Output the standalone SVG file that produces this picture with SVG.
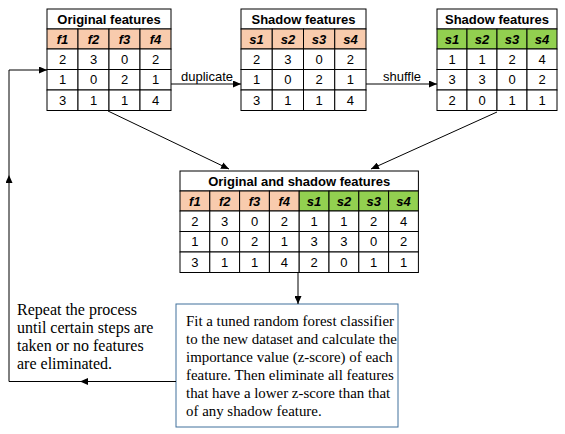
<svg xmlns="http://www.w3.org/2000/svg" width="565" height="434" viewBox="0 0 565 434">
<defs>
<marker id="ah" viewBox="0 0 8 7" refX="8" refY="3.5" markerWidth="8" markerHeight="7" markerUnits="userSpaceOnUse" orient="auto"><path d="M0,0 L8,3.5 L0,7 z" fill="#000"/></marker>
<style>
.cell{fill:#fff;stroke:#000;stroke-width:1}
.hdo{fill:#F8CBAD;stroke:#000;stroke-width:1}
.hdg{fill:#92D050;stroke:#000;stroke-width:1}
.t{font-family:"Liberation Sans",Arial,sans-serif;font-size:13px;text-anchor:middle;fill:#000}
.ti{font-family:"Liberation Sans",Arial,sans-serif;font-size:13px;font-weight:bold;text-anchor:middle;fill:#000}
.h{font-family:"Liberation Sans",Arial,sans-serif;font-size:13px;font-weight:bold;font-style:italic;text-anchor:middle;fill:#000}
.lbl{font-family:"Liberation Sans",Arial,sans-serif;font-size:13px;fill:#000}
.p{font-family:"Liberation Serif","Times New Roman",serif;font-size:16px;fill:#000}
.pb{font-family:"Liberation Serif","Times New Roman",serif;font-size:14.9px;fill:#000}
.c{stroke:#000;stroke-width:1;fill:none}
</style>
</defs>

<g id="table-original">
<rect class="cell" x="47" y="9" width="124" height="20"/>
<text class="ti" x="109" y="23.5">Original features</text>
<rect class="hdo" x="47" y="29" width="31" height="20"/><rect class="hdo" x="78" y="29" width="31" height="20"/><rect class="hdo" x="109" y="29" width="31" height="20"/><rect class="hdo" x="140" y="29" width="31" height="20"/>
<text class="h" x="62.5" y="43.5">f1</text><text class="h" x="93.5" y="43.5">f2</text><text class="h" x="124.5" y="43.5">f3</text><text class="h" x="155.5" y="43.5">f4</text>
<rect class="cell" x="47" y="49" width="31" height="20.5"/><rect class="cell" x="78" y="49" width="31" height="20.5"/><rect class="cell" x="109" y="49" width="31" height="20.5"/><rect class="cell" x="140" y="49" width="31" height="20.5"/>
<rect class="cell" x="47" y="69.5" width="31" height="20.5"/><rect class="cell" x="78" y="69.5" width="31" height="20.5"/><rect class="cell" x="109" y="69.5" width="31" height="20.5"/><rect class="cell" x="140" y="69.5" width="31" height="20.5"/>
<rect class="cell" x="47" y="90" width="31" height="20.5"/><rect class="cell" x="78" y="90" width="31" height="20.5"/><rect class="cell" x="109" y="90" width="31" height="20.5"/><rect class="cell" x="140" y="90" width="31" height="20.5"/>
<text class="t" x="62.5" y="63.7">2</text><text class="t" x="93.5" y="63.7">3</text><text class="t" x="124.5" y="63.7">0</text><text class="t" x="155.5" y="63.7">2</text>
<text class="t" x="62.5" y="84.2">1</text><text class="t" x="93.5" y="84.2">0</text><text class="t" x="124.5" y="84.2">2</text><text class="t" x="155.5" y="84.2">1</text>
<text class="t" x="62.5" y="104.7">3</text><text class="t" x="93.5" y="104.7">1</text><text class="t" x="124.5" y="104.7">1</text><text class="t" x="155.5" y="104.7">4</text>
</g>

<g id="table-shadow">
<rect class="cell" x="241" y="9" width="125" height="20"/>
<text class="ti" x="303.5" y="23.5">Shadow features</text>
<rect class="hdo" x="241" y="29" width="31.25" height="20"/><rect class="hdo" x="272.25" y="29" width="31.25" height="20"/><rect class="hdo" x="303.5" y="29" width="31.25" height="20"/><rect class="hdo" x="334.75" y="29" width="31.25" height="20"/>
<text class="h" x="256.6" y="43.5">s1</text><text class="h" x="287.9" y="43.5">s2</text><text class="h" x="319.1" y="43.5">s3</text><text class="h" x="350.4" y="43.5">s4</text>
<rect class="cell" x="241" y="49" width="31.25" height="20.5"/><rect class="cell" x="272.25" y="49" width="31.25" height="20.5"/><rect class="cell" x="303.5" y="49" width="31.25" height="20.5"/><rect class="cell" x="334.75" y="49" width="31.25" height="20.5"/>
<rect class="cell" x="241" y="69.5" width="31.25" height="20.5"/><rect class="cell" x="272.25" y="69.5" width="31.25" height="20.5"/><rect class="cell" x="303.5" y="69.5" width="31.25" height="20.5"/><rect class="cell" x="334.75" y="69.5" width="31.25" height="20.5"/>
<rect class="cell" x="241" y="90" width="31.25" height="20.5"/><rect class="cell" x="272.25" y="90" width="31.25" height="20.5"/><rect class="cell" x="303.5" y="90" width="31.25" height="20.5"/><rect class="cell" x="334.75" y="90" width="31.25" height="20.5"/>
<text class="t" x="256.6" y="63.7">2</text><text class="t" x="287.9" y="63.7">3</text><text class="t" x="319.1" y="63.7">0</text><text class="t" x="350.4" y="63.7">2</text>
<text class="t" x="256.6" y="84.2">1</text><text class="t" x="287.9" y="84.2">0</text><text class="t" x="319.1" y="84.2">2</text><text class="t" x="350.4" y="84.2">1</text>
<text class="t" x="256.6" y="104.7">3</text><text class="t" x="287.9" y="104.7">1</text><text class="t" x="319.1" y="104.7">1</text><text class="t" x="350.4" y="104.7">4</text>
</g>

<g id="table-shuffled">
<rect class="cell" x="437" y="9" width="120" height="20"/>
<text class="ti" x="497" y="23.5">Shadow features</text>
<rect class="hdg" x="437" y="29" width="30" height="20"/><rect class="hdg" x="467" y="29" width="30" height="20"/><rect class="hdg" x="497" y="29" width="30" height="20"/><rect class="hdg" x="527" y="29" width="30" height="20"/>
<text class="h" x="452" y="43.5">s1</text><text class="h" x="482" y="43.5">s2</text><text class="h" x="512" y="43.5">s3</text><text class="h" x="542" y="43.5">s4</text>
<rect class="cell" x="437" y="49" width="30" height="20.5"/><rect class="cell" x="467" y="49" width="30" height="20.5"/><rect class="cell" x="497" y="49" width="30" height="20.5"/><rect class="cell" x="527" y="49" width="30" height="20.5"/>
<rect class="cell" x="437" y="69.5" width="30" height="20.5"/><rect class="cell" x="467" y="69.5" width="30" height="20.5"/><rect class="cell" x="497" y="69.5" width="30" height="20.5"/><rect class="cell" x="527" y="69.5" width="30" height="20.5"/>
<rect class="cell" x="437" y="90" width="30" height="20.5"/><rect class="cell" x="467" y="90" width="30" height="20.5"/><rect class="cell" x="497" y="90" width="30" height="20.5"/><rect class="cell" x="527" y="90" width="30" height="20.5"/>
<text class="t" x="452" y="63.7">1</text><text class="t" x="482" y="63.7">1</text><text class="t" x="512" y="63.7">2</text><text class="t" x="542" y="63.7">4</text>
<text class="t" x="452" y="84.2">3</text><text class="t" x="482" y="84.2">3</text><text class="t" x="512" y="84.2">0</text><text class="t" x="542" y="84.2">2</text>
<text class="t" x="452" y="104.7">2</text><text class="t" x="482" y="104.7">0</text><text class="t" x="512" y="104.7">1</text><text class="t" x="542" y="104.7">1</text>
</g>

<g id="table-combined">
<rect class="cell" x="180" y="171" width="238.4" height="20"/>
<text class="ti" x="299.2" y="185.5">Original and shadow features</text>
<rect class="hdo" x="180" y="191" width="29.8" height="20"/><rect class="hdo" x="209.8" y="191" width="29.8" height="20"/><rect class="hdo" x="239.6" y="191" width="29.8" height="20"/><rect class="hdo" x="269.4" y="191" width="29.8" height="20"/>
<rect class="hdg" x="299.2" y="191" width="29.8" height="20"/><rect class="hdg" x="329" y="191" width="29.8" height="20"/><rect class="hdg" x="358.8" y="191" width="29.8" height="20"/><rect class="hdg" x="388.6" y="191" width="29.8" height="20"/>
<text class="h" x="194.9" y="205.5">f1</text><text class="h" x="224.7" y="205.5">f2</text><text class="h" x="254.5" y="205.5">f3</text><text class="h" x="284.3" y="205.5">f4</text>
<text class="h" x="314.1" y="205.5">s1</text><text class="h" x="343.9" y="205.5">s2</text><text class="h" x="373.7" y="205.5">s3</text><text class="h" x="403.5" y="205.5">s4</text>
<rect class="cell" x="180" y="211" width="29.8" height="20.5"/><rect class="cell" x="209.8" y="211" width="29.8" height="20.5"/><rect class="cell" x="239.6" y="211" width="29.8" height="20.5"/><rect class="cell" x="269.4" y="211" width="29.8" height="20.5"/><rect class="cell" x="299.2" y="211" width="29.8" height="20.5"/><rect class="cell" x="329" y="211" width="29.8" height="20.5"/><rect class="cell" x="358.8" y="211" width="29.8" height="20.5"/><rect class="cell" x="388.6" y="211" width="29.8" height="20.5"/>
<rect class="cell" x="180" y="231.5" width="29.8" height="20.5"/><rect class="cell" x="209.8" y="231.5" width="29.8" height="20.5"/><rect class="cell" x="239.6" y="231.5" width="29.8" height="20.5"/><rect class="cell" x="269.4" y="231.5" width="29.8" height="20.5"/><rect class="cell" x="299.2" y="231.5" width="29.8" height="20.5"/><rect class="cell" x="329" y="231.5" width="29.8" height="20.5"/><rect class="cell" x="358.8" y="231.5" width="29.8" height="20.5"/><rect class="cell" x="388.6" y="231.5" width="29.8" height="20.5"/>
<rect class="cell" x="180" y="252" width="29.8" height="20.5"/><rect class="cell" x="209.8" y="252" width="29.8" height="20.5"/><rect class="cell" x="239.6" y="252" width="29.8" height="20.5"/><rect class="cell" x="269.4" y="252" width="29.8" height="20.5"/><rect class="cell" x="299.2" y="252" width="29.8" height="20.5"/><rect class="cell" x="329" y="252" width="29.8" height="20.5"/><rect class="cell" x="358.8" y="252" width="29.8" height="20.5"/><rect class="cell" x="388.6" y="252" width="29.8" height="20.5"/>
<text class="t" x="194.9" y="225.7">2</text><text class="t" x="224.7" y="225.7">3</text><text class="t" x="254.5" y="225.7">0</text><text class="t" x="284.3" y="225.7">2</text><text class="t" x="314.1" y="225.7">1</text><text class="t" x="343.9" y="225.7">1</text><text class="t" x="373.7" y="225.7">2</text><text class="t" x="403.5" y="225.7">4</text>
<text class="t" x="194.9" y="246.2">1</text><text class="t" x="224.7" y="246.2">0</text><text class="t" x="254.5" y="246.2">2</text><text class="t" x="284.3" y="246.2">1</text><text class="t" x="314.1" y="246.2">3</text><text class="t" x="343.9" y="246.2">3</text><text class="t" x="373.7" y="246.2">0</text><text class="t" x="403.5" y="246.2">2</text>
<text class="t" x="194.9" y="266.7">3</text><text class="t" x="224.7" y="266.7">1</text><text class="t" x="254.5" y="266.7">1</text><text class="t" x="284.3" y="266.7">4</text><text class="t" x="314.1" y="266.7">2</text><text class="t" x="343.9" y="266.7">0</text><text class="t" x="373.7" y="266.7">1</text><text class="t" x="403.5" y="266.7">1</text>
</g>

<g id="classifier-box">
<rect x="176" y="304" width="222" height="123" fill="#fff" stroke="#41719C" stroke-width="1"/>
<text class="pb" x="186" y="326">Fit a tuned random forest classifier</text>
<text class="pb" x="186" y="344">to the new dataset and calculate the</text>
<text class="pb" x="186" y="362">importance value (z-score) of each</text>
<text class="pb" x="186" y="380">feature. Then eliminate all features</text>
<text class="pb" x="186" y="398">that have a lower z-score than that</text>
<text class="pb" x="186" y="416">of any shadow feature.</text>
</g>

<g id="repeat-note">
<text class="p" x="17" y="315">Repeat the process</text>
<text class="p" x="17" y="333">until certain steps are</text>
<text class="p" x="17" y="351">taken or no features</text>
<text class="p" x="17" y="369">are eliminated.</text>
</g>

<g id="connectors">
<line class="c" x1="171" y1="84" x2="241" y2="84" marker-end="url(#ah)"/>
<text class="lbl" x="181" y="81">duplicate</text>
<line class="c" x1="366" y1="84" x2="437" y2="84" marker-end="url(#ah)"/>
<text class="lbl" x="383" y="81">shuffle</text>
<line class="c" x1="108" y1="111" x2="229" y2="169" marker-end="url(#ah)"/>
<line class="c" x1="497" y1="112" x2="371" y2="169" marker-end="url(#ah)"/>
<line class="c" x1="298" y1="273" x2="298" y2="304" marker-end="url(#ah)"/>
<path class="c" d="M176,381.5 H80" marker-end="url(#ah)"/>
<path class="c" d="M80,381.5 H9 V175" marker-end="url(#ah)"/>
<path class="c" d="M9,175 V70 H47" marker-end="url(#ah)"/>
</g>
</svg>
